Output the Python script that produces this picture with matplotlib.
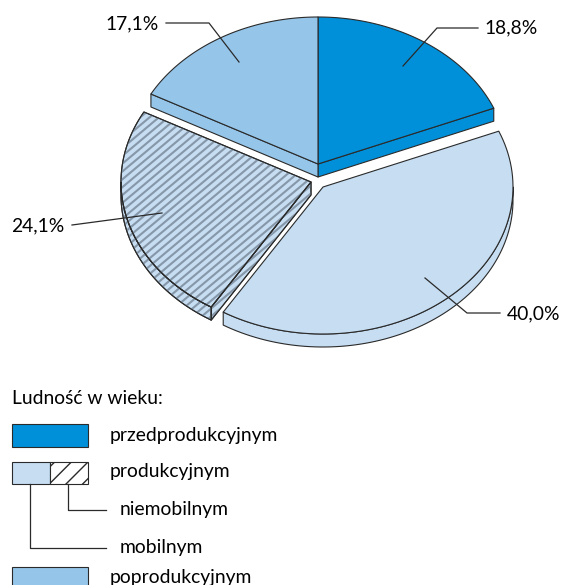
import numpy as np
import matplotlib
matplotlib.use('Agg')
import matplotlib.pyplot as plt
from matplotlib.patches import Polygon, Rectangle
from matplotlib.collections import LineCollection

# data
groups = ['przedprodukcyjnym', 'mobilnym', 'niemobilnym', 'poprodukcyjnym']
shares = [18.8, 40.0, 24.1, 17.1]
colors = ['#0090DA', '#C6DDF2', '#C6DDF2', '#95C6EA']
offsets = [(0, 0), (5, 23), (-7, 18), (0, 0)]   # explode, px
label_txt = [('%.1f%%' % s).replace('.', ',') for s in shares]

W, H = 563, 585
fig = plt.figure(figsize=(W / 100, H / 100), dpi=100)
ax = fig.add_axes([0, 0, 1, 1])
ax.set_xlim(0, W)
ax.set_ylim(H, 0)
ax.axis('off')

plt.rcParams['font.family'] = ['Lato', 'DejaVu Sans']
FS = 13.9
EC = '#2a2a2a'

cx, cy, a, b, depth = 318, 164, 190, 147, 13


def pt(t, off, dz=0):
    r = np.radians(t)
    return (cx + off[0] + a * np.cos(r), cy + off[1] - b * np.sin(r) + dz)


def arc(t1, t2, off, dz=0, n=80):
    ts = np.linspace(t1, t2, n)
    return [pt(t, off, dz) for t in ts]


# slice angles, clockwise from top
bounds = [90.0]
for s in shares:
    bounds.append(bounds[-1] - s * 3.6)


def hatch_lines(clip):
    ang = np.radians(40)
    d = np.array([np.cos(ang), -np.sin(ang)])
    nrm = np.array([-d[1], d[0]])
    segs = []
    for k in np.arange(-80, 80):
        p0 = np.array([cx, cy]) + nrm * k * 6.0
        segs.append([p0 - d * 500, p0 + d * 500])
    lc = LineCollection(segs, colors='#8597a8', linewidths=1.5, zorder=3)
    ax.add_collection(lc)
    lc.set_clip_path(clip)


def draw_slice(i, z):
    t1, t2 = bounds[i], bounds[i + 1]
    off = offsets[i]
    apex = (cx + off[0], cy + off[1])
    apex_d = (apex[0], apex[1] + depth)
    polys = []
    # radial faces
    for t, nrm in ((t1, t1 + 90), (t2, t2 - 90)):
        if np.sin(np.radians(nrm)) < -1e-6:
            polys.append([apex, pt(t, off), pt(t, off, depth), apex_d])
    # outer wall, front half only
    lo, hi = max(t2, -180), min(t1, 0)
    if hi > lo:
        top = arc(hi, lo, off)
        bot = arc(lo, hi, off, depth)
        polys.append(top + bot)
    polys.append([apex] + arc(t1, t2, off))
    for k, p in enumerate(polys):
        patch = Polygon(p, closed=True, facecolor=colors[i], edgecolor=EC,
                        lw=0.8, zorder=z + k * 0.01, joinstyle='round')
        ax.add_patch(patch)
        if groups[i] == 'niemobilnym':
            hatch_lines(patch)
            edge = Polygon(p, closed=True, facecolor='none', edgecolor=EC,
                           lw=0.8, zorder=3.5)
            ax.add_patch(edge)


draw_slice(0, 1)
draw_slice(3, 1)
draw_slice(2, 2)
draw_slice(1, 4)

# leader lines and labels
lk = dict(color=EC, lw=0.9, zorder=6)
ax.plot([403, 437, 478], [66, 28, 28], **lk)
ax.text(484, 28, label_txt[0], fontsize=FS, va='center', ha='left')
ax.plot([425, 467, 500], [278, 313, 313], **lk)
ax.text(507, 314, label_txt[1], fontsize=FS, va='center', ha='left')
ax.plot([162, 72], [213, 225], **lk)
ax.text(64, 226, label_txt[2], fontsize=FS, va='center', ha='right')
ax.plot([239, 209, 166], [62, 23, 23], **lk)
ax.text(159, 24, label_txt[3], fontsize=FS, va='center', ha='right')

# legend
ax.text(12, 399, 'Ludność w wieku:', fontsize=FS, va='center', ha='left')
ax.add_patch(Rectangle((12, 424), 76, 23, facecolor=colors[0], edgecolor=EC, lw=0.8))
ax.text(110, 436, 'przedprodukcyjnym', fontsize=FS, va='center', ha='left')
ax.add_patch(Rectangle((12, 462), 38, 22, facecolor=colors[1], edgecolor=EC, lw=0.8))
ax.add_patch(Rectangle((50, 462), 38, 22, facecolor='white', edgecolor=EC, lw=0.8, hatch='//'))
ax.text(110, 472, 'produkcyjnym', fontsize=FS, va='center', ha='left')
ax.plot([68, 68, 106], [484, 510, 510], **lk)
ax.text(120, 510, groups[2], fontsize=FS, va='center', ha='left')
ax.plot([30, 30, 106], [484, 548, 548], **lk)
ax.text(120, 548, groups[1], fontsize=FS, va='center', ha='left')
ax.add_patch(Rectangle((12, 567), 76, 25, facecolor=colors[3], edgecolor=EC, lw=0.8))
ax.text(110, 577, 'poprodukcyjnym', fontsize=FS, va='center', ha='left')

fig.savefig('out.png', dpi=100)
